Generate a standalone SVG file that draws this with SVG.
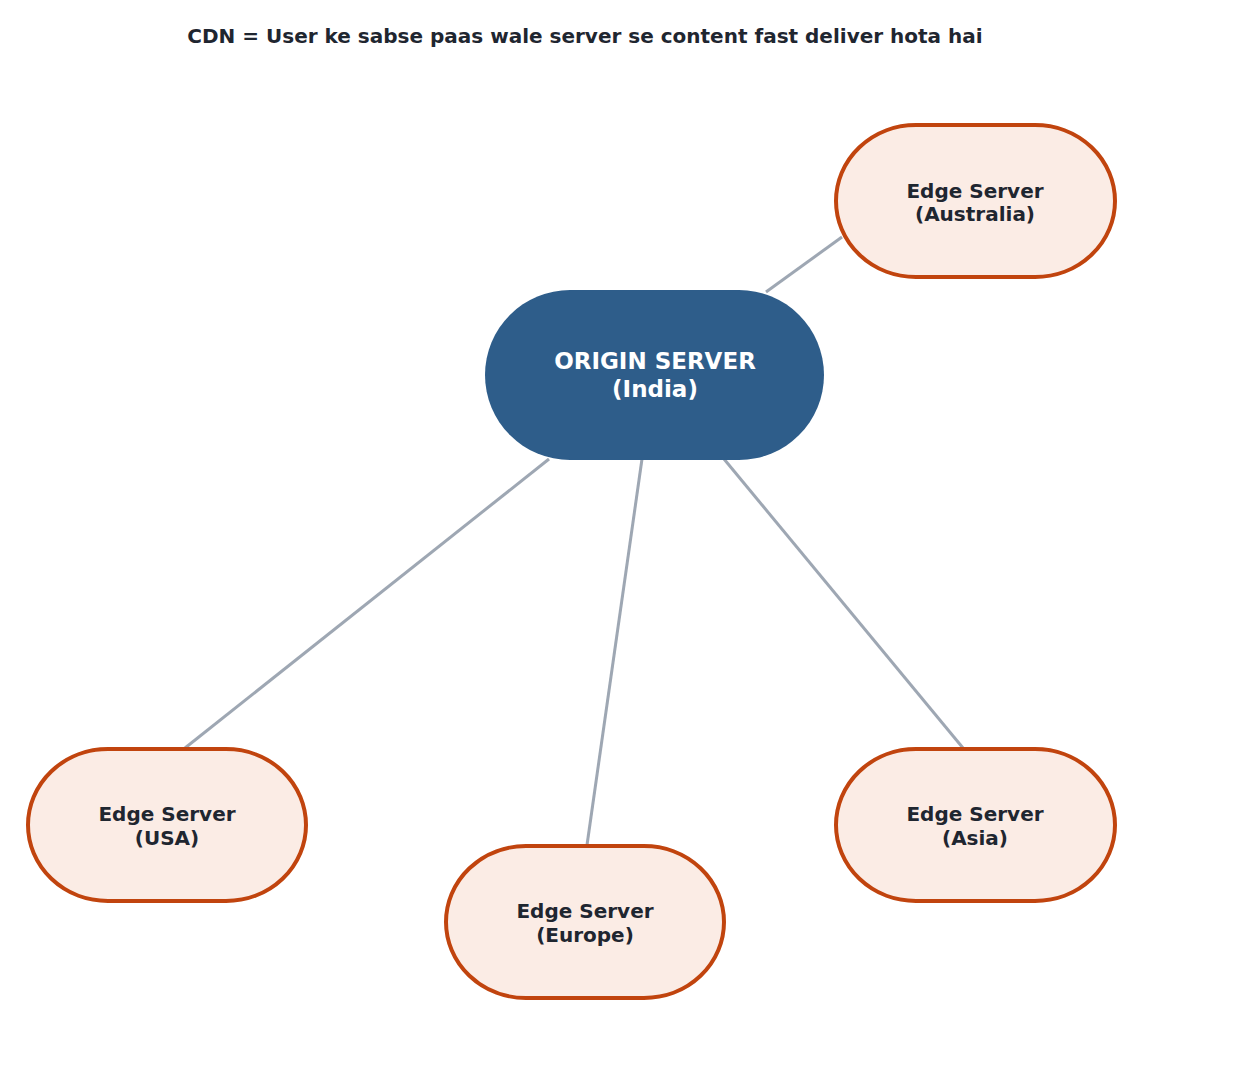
<svg xmlns="http://www.w3.org/2000/svg" width="1239" height="1067" viewBox="0 0 1239 1067">
<style>
text{font-family:"DejaVu Sans",sans-serif;font-weight:bold;text-anchor:middle}
.e rect{fill:#fbece5;stroke:#c1440e;stroke-width:4}
.e text{fill:#1f2630;font-size:20px}
.c line{stroke:#9ea7b3;stroke-width:3}
</style>
<rect width="1239" height="1067" fill="#fff"/>
<text x="585" y="43" font-size="20" fill="#1f2630">CDN = User ke sabse paas wale server se content fast deliver hota hai</text>
<g class="c" id="connectors">
<line x1="766" y1="292" x2="842" y2="237"/>
<line x1="549" y1="459" x2="185" y2="748"/>
<line x1="642" y1="459" x2="587" y2="845"/>
<line x1="724" y1="459" x2="963" y2="748"/>
</g>
<g id="origin">
<rect x="485" y="290" width="339" height="170" rx="85" fill="#2e5d8a"/>
<text x="655" y="369" font-size="23" fill="#fff">ORIGIN SERVER</text>
<text x="655" y="397" font-size="23" fill="#fff">(India)</text>
</g>
<g class="e" id="australia">
<rect x="836" y="125" width="279" height="152" rx="80" ry="76"/>
<text x="975" y="198">Edge Server</text><text x="975" y="221">(Australia)</text>
</g>
<g class="e" id="usa">
<rect x="28" y="749" width="278" height="152" rx="80" ry="76"/>
<text x="167" y="821">Edge Server</text><text x="167" y="845">(USA)</text>
</g>
<g class="e" id="europe">
<rect x="446" y="846" width="278" height="152" rx="80" ry="76"/>
<text x="585" y="918">Edge Server</text><text x="585" y="942">(Europe)</text>
</g>
<g class="e" id="asia">
<rect x="836" y="749" width="279" height="152" rx="80" ry="76"/>
<text x="975" y="821">Edge Server</text><text x="975" y="845">(Asia)</text>
</g>
</svg>
